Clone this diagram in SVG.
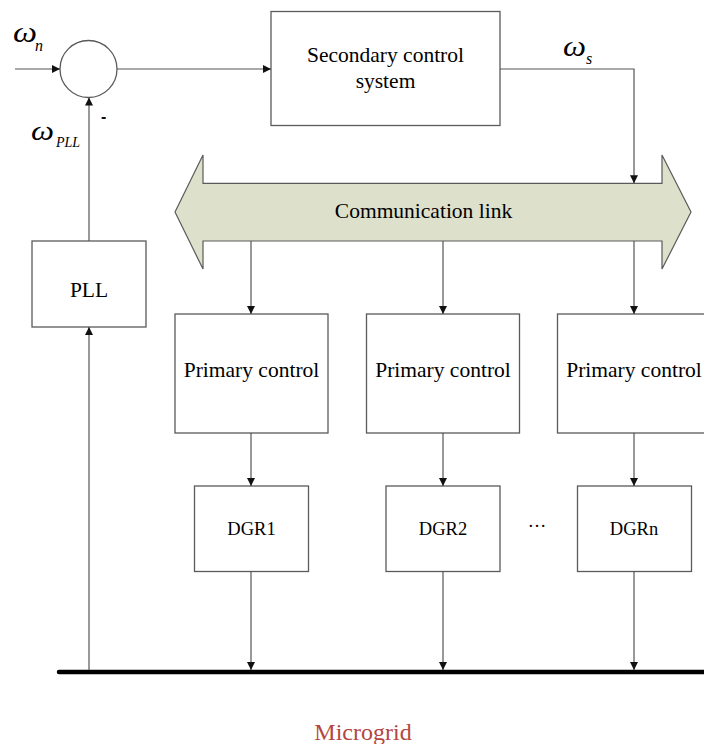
<svg xmlns="http://www.w3.org/2000/svg" width="704" height="744" viewBox="0 0 704 744">
<defs>
<style>
.box{fill:#fff;stroke:#5a5a5a;stroke-width:1.3}
.ln{fill:none;stroke:#555;stroke-width:1.2}
.t{font-family:"Liberation Serif","Times New Roman",serif;font-size:21.5px;fill:#000;text-anchor:middle}
.td{font-family:"Liberation Serif","Times New Roman",serif;font-size:18.5px;fill:#000;text-anchor:middle}
.w{font-family:"Liberation Serif","Times New Roman",serif;font-style:italic;fill:#000}
</style>
<marker id="ah" viewBox="0 0 10 10" refX="10" refY="5" markerWidth="8" markerHeight="8" markerUnits="userSpaceOnUse" orient="auto">
<path d="M0,0 L10,5 L0,10 z" fill="#111"/>
</marker>
</defs>
<rect width="704" height="744" fill="#fff"/>

<g id="sum">
<circle cx="88.5" cy="69" r="28.5" class="box"/>
<text x="101" y="122" style="font-family:'Liberation Sans',Arial,sans-serif;font-size:16px;font-weight:bold;fill:#111">-</text>
</g>
<g id="label-wn"><text class="w" x="13" y="42" font-size="29" textLength="24" lengthAdjust="spacingAndGlyphs">ω</text><text class="w" x="35" y="51" font-size="16">n</text></g>
<g id="label-wpll"><text class="w" x="31" y="140" font-size="27" textLength="23" lengthAdjust="spacingAndGlyphs">ω</text><text class="w" x="56" y="147" font-size="14">PLL</text></g>
<g id="label-ws"><text class="w" x="563" y="56" font-size="29" textLength="23" lengthAdjust="spacingAndGlyphs">ω</text><text class="w" x="586" y="64" font-size="16">s</text></g>

<g id="secondary">
<rect x="271" y="11.5" width="229" height="114" class="box"/>
<text class="t" x="385.5" y="62">Secondary control</text>
<text class="t" x="385.5" y="88">system</text>
</g>

<g id="pll">
<rect x="32" y="241" width="114" height="86" class="box"/>
<text class="t" x="89" y="297">PLL</text>
</g>

<g id="comm">
<polygon points="175,212 203,155 203,183.3 662,183.3 662,155 691,212 662,269 662,241 203,241 203,269" fill="#dde0cb" stroke="#5a5a5a" stroke-width="1.2"/>
<text class="t" x="423.5" y="218">Communication link</text>
</g>

<g id="primary1"><rect x="175" y="314" width="153" height="119" class="box"/><text class="t" x="251.5" y="377">Primary control</text></g>
<g id="primary2"><rect x="366.5" y="314" width="153" height="119" class="box"/><text class="t" x="443" y="377">Primary control</text></g>
<g id="primary3"><rect x="557.5" y="314" width="153" height="119" class="box"/><text class="t" x="634" y="377">Primary control</text></g>

<g id="dgr1"><rect x="194.5" y="486" width="114" height="85.5" class="box"/><text class="td" x="251.5" y="535">DGR1</text></g>
<g id="dgr2"><rect x="386" y="486" width="114" height="85.5" class="box"/><text class="td" x="443" y="535">DGR2</text></g>
<g id="dgrn"><rect x="577.5" y="486" width="114" height="85.5" class="box"/><text class="td" x="634" y="535">DGRn</text></g>
<text class="td" x="537" y="527">…</text>

<g id="bus">
<line x1="59" y1="672" x2="704" y2="672" stroke="#000" stroke-width="4.5" stroke-linecap="round"/>
<text x="363" y="740" style="font-family:'Liberation Serif','Times New Roman',serif;font-size:24px;fill:#b5463f;text-anchor:middle">Microgrid</text>
</g>

<g id="connectors">
<line x1="15" y1="69" x2="60" y2="69" class="ln" marker-end="url(#ah)"/>
<line x1="117" y1="69" x2="271" y2="69" class="ln" marker-end="url(#ah)"/>
<polyline points="500,69 634,69 634,183.3" class="ln" marker-end="url(#ah)"/>
<line x1="89" y1="241" x2="89" y2="97.5" class="ln" marker-end="url(#ah)"/>
<line x1="89" y1="670" x2="89" y2="327" class="ln" marker-end="url(#ah)"/>
<line x1="251" y1="241" x2="251" y2="314" class="ln" marker-end="url(#ah)"/>
<line x1="443" y1="241" x2="443" y2="314" class="ln" marker-end="url(#ah)"/>
<line x1="634" y1="241" x2="634" y2="314" class="ln" marker-end="url(#ah)"/>
<line x1="251" y1="433" x2="251" y2="486" class="ln" marker-end="url(#ah)"/>
<line x1="443" y1="433" x2="443" y2="486" class="ln" marker-end="url(#ah)"/>
<line x1="634" y1="433" x2="634" y2="486" class="ln" marker-end="url(#ah)"/>
<line x1="251" y1="571.5" x2="251" y2="670" class="ln" marker-end="url(#ah)"/>
<line x1="443" y1="571.5" x2="443" y2="670" class="ln" marker-end="url(#ah)"/>
<line x1="634" y1="571.5" x2="634" y2="670" class="ln" marker-end="url(#ah)"/>
</g>
</svg>
